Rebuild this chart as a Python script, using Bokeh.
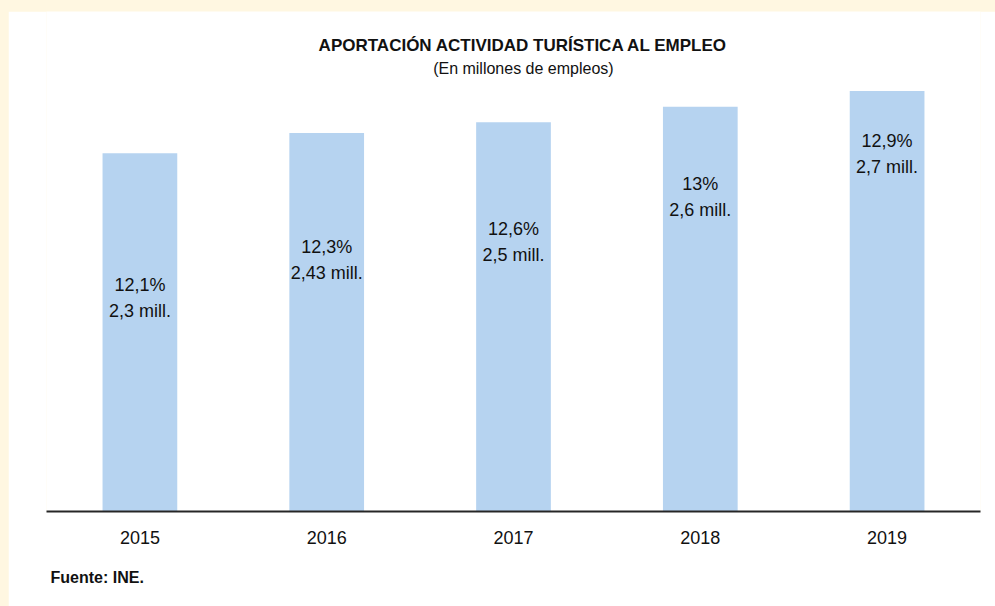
from bokeh.plotting import figure
from bokeh.models import FactorRange, Range1d, Label, ColumnDataSource, Title
from bokeh.core.properties import value
from bokeh.embed import file_html
from bokeh.resources import INLINE

# ---- data ----
years = ["2015", "2016", "2017", "2018", "2019"]
empleo_mill = [2.3, 2.43, 2.5, 2.6, 2.7]
pct_labels = ["12,1%", "12,3%", "12,6%", "13%", "12,9%"]
mill_labels = ["2,3 mill.", "2,43 mill.", "2,5 mill.", "2,6 mill.", "2,7 mill."]

title_text = "APORTACIÓN ACTIVIDAD TURÍSTICA AL EMPLEO"
subtitle_text = "(En millones de empleos)"
source_text = "Fuente: INE."

# label vertical placement (data units, hand-placed as in the original)
label_pos = [1.371, 1.615, 1.731, 2.017, 2.296]

FONT = "Liberation Sans"
BAR = "#B6D3F0"
TXT = "#111111"

src = ColumnDataSource(dict(
    year=years,
    empleo=empleo_mill,
    label=[a + "\n" + b for a, b in zip(pct_labels, mill_labels)],
    ly=label_pos,
))

p = figure(
    x_range=FactorRange(*years),
    y_range=Range1d(0, 3.211),
    width=987, height=595,
    output_backend="svg", toolbar_location=None,
    y_axis_location=None,
    min_border_left=38, min_border_right=15,
    min_border_top=0, min_border_bottom=95,
    outline_line_color=None,
    background_fill_color="white", border_fill_color="white",
)
p.xgrid.visible = False
p.ygrid.visible = False

p.vbar(x="year", top="empleo", width=0.4, source=src,
       fill_color=BAR, line_color=None)

p.text(x="year", y="ly", text="label", source=src,
       text_align="center", text_baseline="middle",
       text_font=value(FONT), text_font_size="18px",
       text_color=TXT, text_line_height=1.3)

ax = p.xaxis[0]
ax.axis_line_color = "#262626"
ax.axis_line_width = 2
ax.major_tick_line_color = None
ax.minor_tick_line_color = None
ax.major_label_text_font = FONT
ax.major_label_text_font_size = "18px"
ax.major_label_text_color = TXT
ax.major_label_standoff = 13

p.add_layout(Label(x=2.553, y=2.993, text=title_text,
                   text_align="center", text_baseline="middle",
                   text_font=FONT, text_font_size="17px",
                   text_font_style="bold", text_color=TXT))
p.add_layout(Label(x=2.553, y=2.845, text=subtitle_text,
                   text_align="center", text_baseline="middle",
                   text_font=FONT, text_font_size="16px",
                   text_color=TXT))
p.add_layout(Title(text=source_text, align="left", offset=4, standoff=41,
                   text_font=FONT, text_font_size="16px",
                   text_font_style="bold", text_color=TXT), "below")

html = file_html(p, INLINE, title="Aportación actividad turística al empleo")
html = html.replace(
    "</head>",
    "<style>html,body{background:#FFF7E1}body{margin:11px 0 0 8px}</style></head>", 1)
open("out.html", "w").write(html)
